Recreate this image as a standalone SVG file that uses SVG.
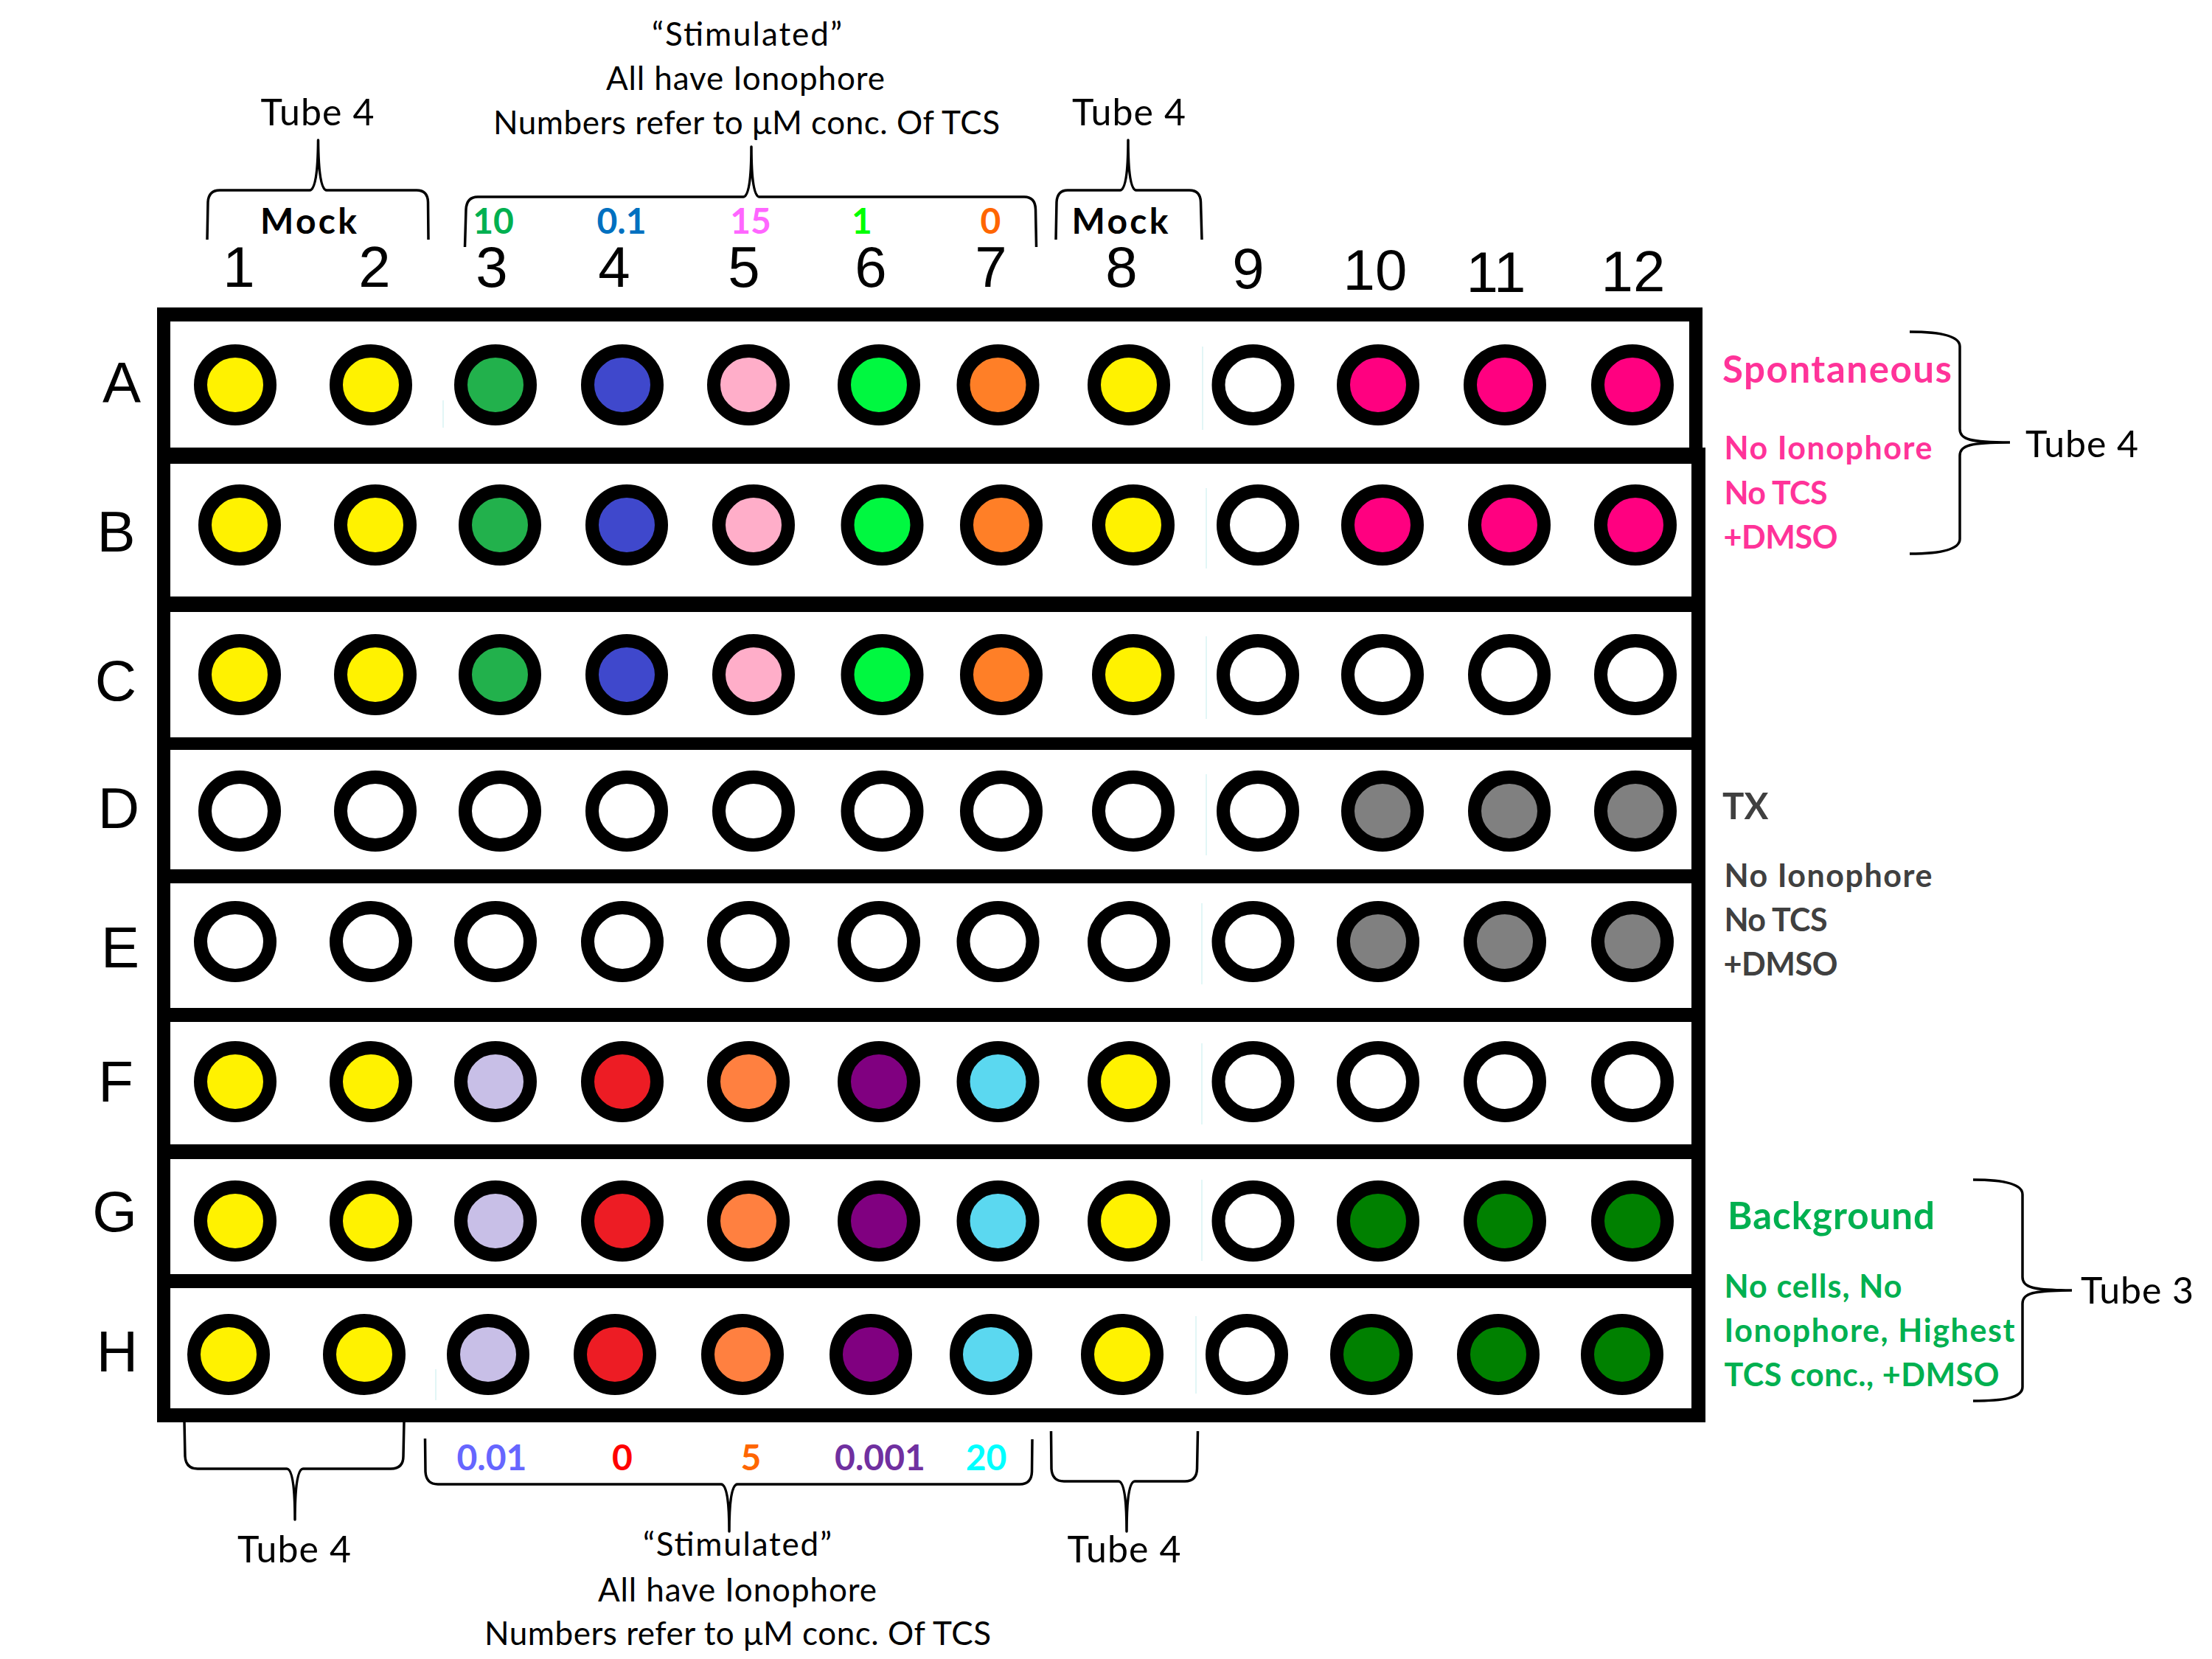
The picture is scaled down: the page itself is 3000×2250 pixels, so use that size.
<svg xmlns="http://www.w3.org/2000/svg" width="3000" height="2250" viewBox="0 0 3000 2250">
<style>
.w{stroke:#000;stroke-width:18}
.Y{fill:#FFF200}.G3{fill:#22B14C}.B4{fill:#3F48CC}.P5{fill:#FFAEC9}.G6{fill:#00F840}.O7{fill:#FF7F27}
.M{fill:#FF0080}.W{fill:#FFFFFF}.Gr{fill:#808080}.L{fill:#C8BFE7}.R{fill:#ED1C24}.O5{fill:#FF8040}
.Pu{fill:#800080}.C{fill:#5BD8F0}.DG{fill:#008000}
.lbl{font-family:"Liberation Sans",Arial,sans-serif;font-size:78px;fill:#000;text-anchor:middle}
.cal{font-family:Lato,"Open Sans",sans-serif;fill:#000}
.reg{font-size:50px}
.note{font-size:44px;text-anchor:middle}
.bold{font-weight:bold}
.num{font-size:48px;font-weight:bold;text-anchor:middle}
.mid{text-anchor:middle}
.pink{fill:#FF3399}
.gray{fill:#404040}
.green{fill:#00B050}
.brace{fill:none;stroke:#000;stroke-width:3.5;stroke-linejoin:round}
.frame{fill:#000}
.faint{stroke:#E2F6F6;stroke-width:2}
</style>
<rect width="3000" height="2250" fill="#fff"/>

<g id="plate-frame">
  <rect class="frame" x="213" y="417" width="2096" height="19"/>
  <rect class="frame" x="213" y="417" width="18" height="1512"/>
  <rect class="frame" x="2291" y="417" width="18" height="205"/>
  <rect class="frame" x="2294" y="607" width="19" height="1322"/>
  <rect class="frame" x="213" y="607" width="2100" height="22"/>
  <rect class="frame" x="213" y="809" width="2100" height="21"/>
  <rect class="frame" x="213" y="1000" width="2100" height="17"/>
  <rect class="frame" x="213" y="1179" width="2100" height="19"/>
  <rect class="frame" x="213" y="1367" width="2100" height="19"/>
  <rect class="frame" x="213" y="1552" width="2100" height="20"/>
  <rect class="frame" x="213" y="1728" width="2100" height="19"/>
  <rect class="frame" x="213" y="1910" width="2100" height="19"/>
  <line class="faint" x1="601" y1="543" x2="601" y2="580"/>
  <line class="faint" x1="1631" y1="470" x2="1631" y2="583"/>
  <line class="faint" x1="1636" y1="662" x2="1636" y2="771"/>
  <line class="faint" x1="1636" y1="863" x2="1636" y2="975"/>
  <line class="faint" x1="1636" y1="1050" x2="1636" y2="1160"/>
  <line class="faint" x1="1630" y1="1225" x2="1630" y2="1335"/>
  <line class="faint" x1="1630" y1="1415" x2="1630" y2="1525"/>
  <line class="faint" x1="1630" y1="1600" x2="1630" y2="1710"/>
  <line class="faint" x1="591" y1="1857" x2="591" y2="1899"/>
  <line class="faint" x1="1622" y1="1785" x2="1622" y2="1890"/>
</g>

<g id="column-labels" class="lbl">
  <text x="324" y="389">1</text>
  <text x="508" y="389">2</text>
  <text x="667" y="389">3</text>
  <text x="833" y="389">4</text>
  <text x="1009" y="389">5</text>
  <text x="1181" y="389">6</text>
  <text x="1344" y="389">7</text>
  <text x="1521" y="389">8</text>
  <text x="1693" y="391">9</text>
  <text x="1865" y="393">10</text>
  <text x="2029" y="396">11</text>
  <text x="2215" y="395">12</text>
</g>

<g id="row-labels" class="lbl">
  <text x="165" y="546">A</text>
  <text x="157.5" y="748">B</text>
  <text x="157" y="950">C</text>
  <text x="161" y="1123">D</text>
  <text x="163" y="1312">E</text>
  <text x="157" y="1494">F</text>
  <text x="155.5" y="1670">G</text>
  <text x="159" y="1860">H</text>
</g>

<g id="row-A">
  <ellipse id="A1" class="w Y" cx="319" cy="522" rx="47" ry="46"/>
  <ellipse id="A2" class="w Y" cx="503" cy="522" rx="47" ry="46"/>
  <ellipse id="A3" class="w G3" cx="672" cy="522" rx="47" ry="46"/>
  <ellipse id="A4" class="w B4" cx="844" cy="522" rx="47" ry="46"/>
  <ellipse id="A5" class="w P5" cx="1015" cy="522" rx="47" ry="46"/>
  <ellipse id="A6" class="w G6" cx="1192" cy="522" rx="47" ry="46"/>
  <ellipse id="A7" class="w O7" cx="1353.5" cy="522" rx="47" ry="46"/>
  <ellipse id="A8" class="w Y" cx="1531" cy="522" rx="47" ry="46"/>
  <ellipse id="A9" class="w W" cx="1699.5" cy="522" rx="47" ry="46"/>
  <ellipse id="A10" class="w M" cx="1869" cy="522" rx="47" ry="46"/>
  <ellipse id="A11" class="w M" cx="2041" cy="522" rx="47" ry="46"/>
  <ellipse id="A12" class="w M" cx="2214" cy="522" rx="47" ry="46"/>
</g>
<g id="row-B">
  <ellipse id="B1" class="w Y" cx="325" cy="712" rx="47" ry="46"/>
  <ellipse id="B2" class="w Y" cx="509" cy="712" rx="47" ry="46"/>
  <ellipse id="B3" class="w G3" cx="678" cy="712" rx="47" ry="46"/>
  <ellipse id="B4" class="w B4" cx="850" cy="712" rx="47" ry="46"/>
  <ellipse id="B5" class="w P5" cx="1022" cy="712" rx="47" ry="46"/>
  <ellipse id="B6" class="w G6" cx="1196.5" cy="712" rx="47" ry="46"/>
  <ellipse id="B7" class="w O7" cx="1358" cy="712" rx="47" ry="46"/>
  <ellipse id="B8" class="w Y" cx="1537" cy="712" rx="47" ry="46"/>
  <ellipse id="B9" class="w W" cx="1706" cy="712" rx="47" ry="46"/>
  <ellipse id="B10" class="w M" cx="1875" cy="712" rx="47" ry="46"/>
  <ellipse id="B11" class="w M" cx="2047" cy="712" rx="47" ry="46"/>
  <ellipse id="B12" class="w M" cx="2218" cy="712" rx="47" ry="46"/>
</g>
<g id="row-C">
  <ellipse id="C1" class="w Y" cx="325" cy="915" rx="47" ry="46"/>
  <ellipse id="C2" class="w Y" cx="509" cy="915" rx="47" ry="46"/>
  <ellipse id="C3" class="w G3" cx="678" cy="915" rx="47" ry="46"/>
  <ellipse id="C4" class="w B4" cx="850" cy="915" rx="47" ry="46"/>
  <ellipse id="C5" class="w P5" cx="1022" cy="915" rx="47" ry="46"/>
  <ellipse id="C6" class="w G6" cx="1196.5" cy="915" rx="47" ry="46"/>
  <ellipse id="C7" class="w O7" cx="1358" cy="915" rx="47" ry="46"/>
  <ellipse id="C8" class="w Y" cx="1537" cy="915" rx="47" ry="46"/>
  <ellipse id="C9" class="w W" cx="1706" cy="915" rx="47" ry="46"/>
  <ellipse id="C10" class="w W" cx="1875" cy="915" rx="47" ry="46"/>
  <ellipse id="C11" class="w W" cx="2047" cy="915" rx="47" ry="46"/>
  <ellipse id="C12" class="w W" cx="2218" cy="915" rx="47" ry="46"/>
</g>
<g id="row-D">
  <ellipse id="D1" class="w W" cx="325" cy="1100" rx="47" ry="46"/>
  <ellipse id="D2" class="w W" cx="509" cy="1100" rx="47" ry="46"/>
  <ellipse id="D3" class="w W" cx="678" cy="1100" rx="47" ry="46"/>
  <ellipse id="D4" class="w W" cx="850" cy="1100" rx="47" ry="46"/>
  <ellipse id="D5" class="w W" cx="1022" cy="1100" rx="47" ry="46"/>
  <ellipse id="D6" class="w W" cx="1196.5" cy="1100" rx="47" ry="46"/>
  <ellipse id="D7" class="w W" cx="1358" cy="1100" rx="47" ry="46"/>
  <ellipse id="D8" class="w W" cx="1537" cy="1100" rx="47" ry="46"/>
  <ellipse id="D9" class="w W" cx="1706" cy="1100" rx="47" ry="46"/>
  <ellipse id="D10" class="w Gr" cx="1875" cy="1100" rx="47" ry="46"/>
  <ellipse id="D11" class="w Gr" cx="2047" cy="1100" rx="47" ry="46"/>
  <ellipse id="D12" class="w Gr" cx="2218" cy="1100" rx="47" ry="46"/>
</g>
<g id="row-E">
  <ellipse id="E1" class="w W" cx="319" cy="1277" rx="47" ry="46"/>
  <ellipse id="E2" class="w W" cx="503" cy="1277" rx="47" ry="46"/>
  <ellipse id="E3" class="w W" cx="672" cy="1277" rx="47" ry="46"/>
  <ellipse id="E4" class="w W" cx="844" cy="1277" rx="47" ry="46"/>
  <ellipse id="E5" class="w W" cx="1015" cy="1277" rx="47" ry="46"/>
  <ellipse id="E6" class="w W" cx="1192" cy="1277" rx="47" ry="46"/>
  <ellipse id="E7" class="w W" cx="1353.5" cy="1277" rx="47" ry="46"/>
  <ellipse id="E8" class="w W" cx="1531" cy="1277" rx="47" ry="46"/>
  <ellipse id="E9" class="w W" cx="1699.5" cy="1277" rx="47" ry="46"/>
  <ellipse id="E10" class="w Gr" cx="1869" cy="1277" rx="47" ry="46"/>
  <ellipse id="E11" class="w Gr" cx="2041" cy="1277" rx="47" ry="46"/>
  <ellipse id="E12" class="w Gr" cx="2214" cy="1277" rx="47" ry="46"/>
</g>
<g id="row-F">
  <ellipse id="F1" class="w Y" cx="319" cy="1467" rx="47" ry="46"/>
  <ellipse id="F2" class="w Y" cx="503" cy="1467" rx="47" ry="46"/>
  <ellipse id="F3" class="w L" cx="672" cy="1467" rx="47" ry="46"/>
  <ellipse id="F4" class="w R" cx="844" cy="1467" rx="47" ry="46"/>
  <ellipse id="F5" class="w O5" cx="1015" cy="1467" rx="47" ry="46"/>
  <ellipse id="F6" class="w Pu" cx="1192" cy="1467" rx="47" ry="46"/>
  <ellipse id="F7" class="w C" cx="1353.5" cy="1467" rx="47" ry="46"/>
  <ellipse id="F8" class="w Y" cx="1531" cy="1467" rx="47" ry="46"/>
  <ellipse id="F9" class="w W" cx="1699.5" cy="1467" rx="47" ry="46"/>
  <ellipse id="F10" class="w W" cx="1869" cy="1467" rx="47" ry="46"/>
  <ellipse id="F11" class="w W" cx="2041" cy="1467" rx="47" ry="46"/>
  <ellipse id="F12" class="w W" cx="2214" cy="1467" rx="47" ry="46"/>
</g>
<g id="row-G">
  <ellipse id="G1" class="w Y" cx="319" cy="1656" rx="47" ry="46"/>
  <ellipse id="G2" class="w Y" cx="503" cy="1656" rx="47" ry="46"/>
  <ellipse id="G3" class="w L" cx="672" cy="1656" rx="47" ry="46"/>
  <ellipse id="G4" class="w R" cx="844" cy="1656" rx="47" ry="46"/>
  <ellipse id="G5" class="w O5" cx="1015" cy="1656" rx="47" ry="46"/>
  <ellipse id="G6" class="w Pu" cx="1192" cy="1656" rx="47" ry="46"/>
  <ellipse id="G7" class="w C" cx="1353.5" cy="1656" rx="47" ry="46"/>
  <ellipse id="G8" class="w Y" cx="1531" cy="1656" rx="47" ry="46"/>
  <ellipse id="G9" class="w W" cx="1699.5" cy="1656" rx="47" ry="46"/>
  <ellipse id="G10" class="w DG" cx="1869" cy="1656" rx="47" ry="46"/>
  <ellipse id="G11" class="w DG" cx="2041" cy="1656" rx="47" ry="46"/>
  <ellipse id="G12" class="w DG" cx="2214" cy="1656" rx="47" ry="46"/>
</g>
<g id="row-H">
  <ellipse id="H1" class="w Y" cx="310" cy="1837" rx="47" ry="46"/>
  <ellipse id="H2" class="w Y" cx="494" cy="1837" rx="47" ry="46"/>
  <ellipse id="H3" class="w L" cx="662" cy="1837" rx="47" ry="46"/>
  <ellipse id="H4" class="w R" cx="834" cy="1837" rx="47" ry="46"/>
  <ellipse id="H5" class="w O5" cx="1007" cy="1837" rx="47" ry="46"/>
  <ellipse id="H6" class="w Pu" cx="1181" cy="1837" rx="47" ry="46"/>
  <ellipse id="H7" class="w C" cx="1344" cy="1837" rx="47" ry="46"/>
  <ellipse id="H8" class="w Y" cx="1522" cy="1837" rx="47" ry="46"/>
  <ellipse id="H9" class="w W" cx="1691" cy="1837" rx="47" ry="46"/>
  <ellipse id="H10" class="w DG" cx="1860" cy="1837" rx="47" ry="46"/>
  <ellipse id="H11" class="w DG" cx="2032" cy="1837" rx="47" ry="46"/>
  <ellipse id="H12" class="w DG" cx="2200" cy="1837" rx="47" ry="46"/>
</g>

<g id="connectors">
  <path class="brace" d="M281,325 L282,274 Q283,258 298,258 L420,258 Q431,258 431.5,190 Q432,258 443,258 L565,258 Q580,258 580.5,274 L581,325"/>
  <path class="brace" d="M630.5,335 L632,284 Q633,267 648,267 L1008,267 Q1019,267 1019,199 Q1019,267 1030,267 L1389,267 Q1404,267 1404.5,284 L1405.5,335"/>
  <path class="brace" d="M1432,325 L1433,274 Q1434,258 1448,258 L1519,258 Q1530,258 1530,190 Q1530,258 1541,258 L1613,258 Q1628,258 1628.5,274 L1630,325"/>
  <path class="brace" d="M250,1928 L251,1975 Q252,1992 268,1992 L389,1992 Q400,1992 400,2061 Q400,1992 411,1992 L530,1992 Q547,1992 547,1975 L548,1928"/>
  <path class="brace" d="M576.5,1951 L577,1996 Q578,2013 594,2013 L978,2013 Q989,2013 989,2077 Q989,2013 1000,2013 L1383,2013 Q1399,2013 1399.5,1996 L1400,1952"/>
  <path class="brace" d="M1425.5,1941 L1426,1992 Q1427,2009 1443,2009 L1517,2009 Q1528,2009 1528,2077 Q1528,2009 1539,2009 L1607,2009 Q1623,2009 1623.5,1992 L1624.5,1941"/>
  <path class="brace" d="M2590,450 C2630,450 2658,455 2658,470 L2658,582 C2658,596 2672,600 2726,600 M2726,600 C2672,600 2658,604 2658,618 L2658,731 C2658,746 2630,751 2590,751"/>
  <path class="brace" d="M2676,1600 C2716,1600 2743,1605 2743,1620 L2743,1732 C2743,1746 2757,1750 2810,1750 M2810,1750 C2757,1750 2743,1754 2743,1768 L2743,1881 C2743,1896 2716,1900 2676,1900"/>
</g>

<g id="top-annotations" class="cal">
  <text class="reg mid" x="430.5" y="170" textLength="154">Tube 4</text>
  <text class="reg mid" x="1531" y="170" textLength="154">Tube 4</text>
  <text class="note" x="1013" y="62" textLength="258">“Stimulated”</text>
  <text class="note" x="1011" y="122" textLength="378">All have Ionophore</text>
  <text class="note" x="1012.5" y="182" textLength="687">Numbers refer to μM conc. Of TCS</text>
  <text class="bold mid" font-size="48" x="418.5" y="317" textLength="131">Mock</text>
  <text class="bold mid" font-size="48" x="1519" y="317" textLength="131">Mock</text>
  <text class="num" x="669" y="317" fill="#00B050">10</text>
  <text class="num" x="843" y="317" fill="#0070C0">0.1</text>
  <text class="num" x="1018" y="317" fill="#FF66FF">15</text>
  <text class="num" x="1169" y="317" fill="#00FF00">1</text>
  <text class="num" x="1343.5" y="317" fill="#FF6600">0</text>
</g>

<g id="bottom-annotations" class="cal">
  <text class="num" x="667" y="1994" fill="#6666FF">0.01</text>
  <text class="num" x="844" y="1994" fill="#FF0000">0</text>
  <text class="num" x="1018.5" y="1994" fill="#FF6600">5</text>
  <text class="num" x="1193.5" y="1994" fill="#7030A0">0.001</text>
  <text class="num" x="1337.5" y="1994" fill="#00FFFF">20</text>
  <text class="reg mid" x="399" y="2119" textLength="154">Tube 4</text>
  <text class="reg mid" x="1524.5" y="2119" textLength="154">Tube 4</text>
  <text class="note" x="1000" y="2110" textLength="256">“Stimulated”</text>
  <text class="note" x="1000" y="2172" textLength="378">All have Ionophore</text>
  <text class="note" x="1000.5" y="2231" textLength="687">Numbers refer to μM conc. Of TCS</text>
</g>

<g id="spontaneous">
  <text class="cal bold pink" x="2336" y="519" font-size="51" textLength="311">Spontaneous</text>
  <text class="cal bold pink" x="2338.5" y="623" font-size="43" textLength="282">No Ionophore</text>
  <text class="cal bold pink" x="2338.5" y="683.5" font-size="43" textLength="140">No TCS</text>
  <text class="cal bold pink" x="2337.5" y="743.5" font-size="43" textLength="155">+DMSO</text>
  <text class="cal reg" x="2747" y="620" textLength="153">Tube 4</text>
</g>

<g id="tx">
  <text class="cal bold gray" x="2336" y="1111" font-size="49">TX</text>
  <text class="cal bold gray" x="2338.5" y="1203" font-size="43" textLength="282">No Ionophore</text>
  <text class="cal bold gray" x="2338.5" y="1263" font-size="43" textLength="140">No TCS</text>
  <text class="cal bold gray" x="2337.5" y="1323" font-size="43" textLength="155">+DMSO</text>
</g>

<g id="background">
  <text class="cal bold green" x="2343" y="1667" font-size="51" textLength="281">Background</text>
  <text class="cal bold green" x="2338.5" y="1760" font-size="43" textLength="241">No cells, No</text>
  <text class="cal bold green" x="2338.5" y="1820" font-size="43" textLength="394">Ionophore, Highest</text>
  <text class="cal bold green" x="2338.5" y="1880" font-size="43" textLength="373">TCS conc., +DMSO</text>
  <text class="cal reg" x="2822" y="1768" textLength="153">Tube 3</text>
</g>
</svg>
